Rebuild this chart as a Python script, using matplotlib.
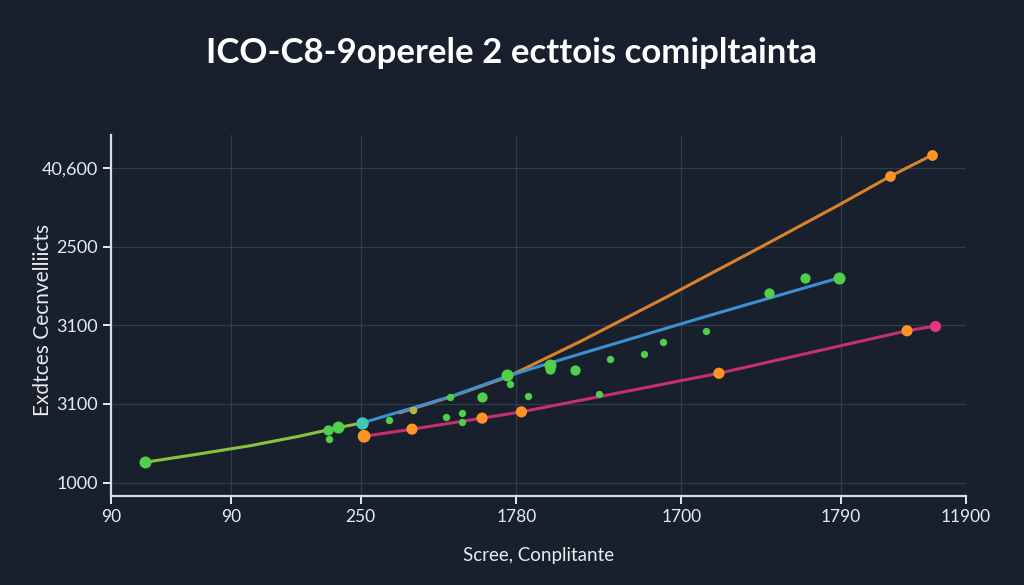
import matplotlib.pyplot as plt

# tick positions (axis runs 0..100 horizontally) and their labels
x_ticks = [0, 14.0, 29.2, 47.4, 66.7, 85.4, 100]
x_labels = ["90", "90", "250", "1780", "1700", "1790", "11900"]
y_ticks = [0, 1, 2, 3, 4]
y_labels = ["1000", "3100", "3100", "2500", "40,600"]

# lines
green_x = [4.0, 10.0, 16.3, 22.0, 26.6, 29.4]
green_y = [0.26, 0.36, 0.47, 0.59, 0.70, 0.76]
blue_x = [29.4, 39.6, 46.3, 51.3, 68.9, 85.1]
blue_y = [0.76, 1.09, 1.35, 1.52, 2.09, 2.60]
orange_x = [33.8, 40.0, 46.3, 55.0, 65.0, 75.6, 85.0, 91.1, 96.0]
orange_y = [0.89, 1.10, 1.34, 1.80, 2.36, 2.97, 3.52, 3.89, 4.16]
magenta_x = [29.6, 35.2, 43.4, 48.0, 71.1, 93.1, 96.4]
magenta_y = [0.59, 0.68, 0.82, 0.90, 1.39, 1.93, 1.99]

# scattered points
small_x = [25.5, 32.5, 39.2, 41.1, 41.1, 39.6, 46.7, 48.8, 57.1,
           58.4, 62.3, 64.6, 69.6]
small_y = [0.555, 0.80, 0.83, 0.885, 0.77, 1.09, 1.25, 1.10, 1.13,
           1.57, 1.63, 1.79, 1.93]
mid_x = [25.4, 43.4, 51.3, 54.3, 77.0, 81.2]
mid_y = [0.67, 1.09, 1.44, 1.43, 2.41, 2.60]
big_x = [4.0, 26.6, 46.3, 51.3, 85.1]
big_y = [0.26, 0.71, 1.37, 1.50, 2.60]

bg = "#19202d"
plt.rcParams["font.family"] = ["Lato", "DejaVu Sans"]

fig = plt.figure(figsize=(10.24, 5.85), dpi=100, facecolor=bg)
ax = fig.add_axes([0.1084, 0.152, 0.835, 0.617])
ax.set_facecolor(bg)

ax.plot(green_x, green_y, color="#86c440", lw=2.2, zorder=3)
ax.plot(orange_x, orange_y, color="#d8822c", lw=2.2, zorder=3)
ax.plot(blue_x, blue_y, color="#3b90d4", lw=2.2, zorder=4)
ax.plot(magenta_x, magenta_y, color="#c5306f", lw=2.2, zorder=3)

ax.scatter(small_x, small_y, s=28, color="#4fcf4a", zorder=5, lw=0)
ax.scatter(mid_x, mid_y, s=55, color="#4fcf4a", zorder=5, lw=0)
ax.scatter(big_x, big_y, s=75, color="#4fcf4a", zorder=5, lw=0)
ax.scatter([29.4], [0.76], s=80, color="#3fc9b0", zorder=6, lw=0)
ax.scatter([35.3], [0.92], s=30, color="#b6b645", zorder=5, lw=0)
ax.scatter(magenta_x[:6], magenta_y[:6], s=[85, 65, 65, 65, 65, 65],
           color="#ff9426", zorder=6, lw=0)
ax.scatter(orange_x[-2:], orange_y[-2:], s=60, color="#ff9426", zorder=6, lw=0)
ax.scatter(magenta_x[-1:], magenta_y[-1:], s=65, color="#e63580", zorder=6, lw=0)

ax.set_xlim(0, 100)
ax.set_ylim(-0.17, 4.415)
ax.set_xticks(x_ticks)
ax.set_xticklabels(x_labels)
ax.set_yticks(y_ticks)
ax.set_yticklabels(y_labels)
ax.tick_params(colors="#e8eaee", labelsize=13, length=6, width=1.4)
ax.tick_params(axis="x", labelsize=12.5)
ax.grid(color="#3a4250", lw=0.9, alpha=0.8)
ax.set_axisbelow(True)
for side in ["top", "right"]:
    ax.spines[side].set_visible(False)
for side in ["left", "bottom"]:
    ax.spines[side].set_color("#d8dce3")
    ax.spines[side].set_linewidth(1.6)

ax.set_xlabel("Scree, Conplitante", color="#e8eaee", fontsize=13.5, labelpad=16)
fig.text(0.042, 0.453, "Exdtces Cecnvelliicts", color="#e8eaee", fontsize=15,
         rotation=90, ha="center", va="center")
fig.text(0.5, 0.91, "ICO-C8-9operele 2 ecttois comipltainta", color="white",
         fontsize=25, fontweight="bold", ha="center", va="center")

fig.savefig("out.png", dpi=100, facecolor=bg)
